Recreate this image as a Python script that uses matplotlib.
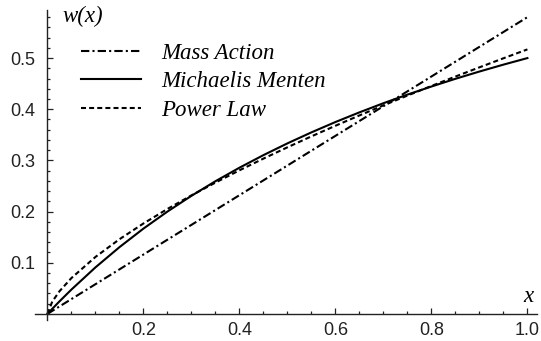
import numpy as np
import matplotlib
matplotlib.use('Agg')
import matplotlib.pyplot as plt
from matplotlib.ticker import MultipleLocator, FixedLocator

# values
x_vals = [0.0, 0.01, 0.025, 0.05, 0.1, 0.15, 0.2, 0.25, 0.3, 0.35, 0.4, 0.45,
          0.5, 0.55, 0.6, 0.65, 0.7, 0.75, 0.8, 0.85, 0.9, 0.95, 1.0]
mass_action = [0.0, 0.0058, 0.0145, 0.029, 0.058, 0.087, 0.116, 0.145, 0.174,
               0.203, 0.232, 0.261, 0.29, 0.319, 0.348, 0.377, 0.406, 0.435,
               0.464, 0.493, 0.522, 0.551, 0.58]
michaelis = [0.0, 0.0099, 0.0244, 0.0476, 0.0909, 0.1304, 0.1667, 0.2, 0.2308,
             0.2593, 0.2857, 0.3103, 0.3333, 0.3548, 0.375, 0.3939, 0.4118,
             0.4286, 0.4444, 0.4595, 0.4737, 0.4872, 0.5]
power_law = [0.0, 0.024, 0.0442, 0.0701, 0.1113, 0.1459, 0.1767, 0.2051, 0.2316,
             0.2566, 0.2806, 0.3035, 0.3256, 0.347, 0.3677, 0.3879, 0.4076,
             0.4267, 0.4455, 0.4639, 0.4819, 0.4996, 0.517]
labels = ['Mass Action', 'Michaelis Menten', 'Power Law']
x_ticks = [0.2, 0.4, 0.6, 0.8, 1.0]
y_ticks = [0.1, 0.2, 0.3, 0.4, 0.5]

W, H = 541, 341
fig = plt.figure(figsize=(W / 100, H / 100), dpi=100)
ax = fig.add_axes([35 / W, (H - 320) / H, (537 - 35) / W, (320 - 10) / H])
ax.set_xlim(-0.026, 1.02)
ax.set_ylim(-0.012, 0.594)

lw = 1.5
ax.plot(x_vals, mass_action, color='black', lw=lw, dashes=(4.0, 1.5, 1.0, 1.5),
        label=labels[0])
ax.plot(x_vals, michaelis, color='black', lw=lw, label=labels[1])
ax.plot(x_vals, power_law, color='black', lw=lw, dashes=(2.4, 1.5),
        label=labels[2])

for s in ['top', 'right']:
    ax.spines[s].set_visible(False)
ax.spines['left'].set_position(('data', 0))
ax.spines['bottom'].set_position(('data', 0))
for s in ['left', 'bottom']:
    ax.spines[s].set_color('#222222')
    ax.spines[s].set_linewidth(1.0)

ax.xaxis.set_major_locator(FixedLocator(x_ticks))
ax.yaxis.set_major_locator(FixedLocator(y_ticks))
ax.xaxis.set_minor_locator(MultipleLocator(0.05))
ax.yaxis.set_minor_locator(MultipleLocator(0.02))
ax.set_xticklabels(['%.1f' % v for v in x_ticks])
ax.set_yticklabels(['%.1f' % v for v in y_ticks])
ax.tick_params(which='both', direction='in', color='#222222', width=0.9,
               labelsize=13, labelcolor='#222222',
               labelfontfamily='Liberation Sans')
ax.tick_params(which='major', length=4)
ax.tick_params(which='minor', length=2.2)
ax.tick_params(axis='x', which='major', pad=6)
ax.tick_params(axis='y', which='major', pad=9)

serif_it = dict(family='Liberation Serif', style='italic', size=16.5)
fig.text(62 / W, 1 - 16 / H, 'w(x)', ha='left', va='center', **serif_it)
fig.text(528 / W, 1 - 297 / H, 'x', ha='center', va='center', **serif_it)

leg = ax.legend(loc='upper left', bbox_to_anchor=(81 / W, 1 - 42.5 / H),
                bbox_transform=fig.transFigure, frameon=False, borderpad=0,
                borderaxespad=0, handlelength=2.6, handletextpad=0.9,
                labelspacing=0.33, prop=dict(family='Liberation Serif',
                                             style='italic', size=16.5))

fig.savefig('out.png', dpi=100)
